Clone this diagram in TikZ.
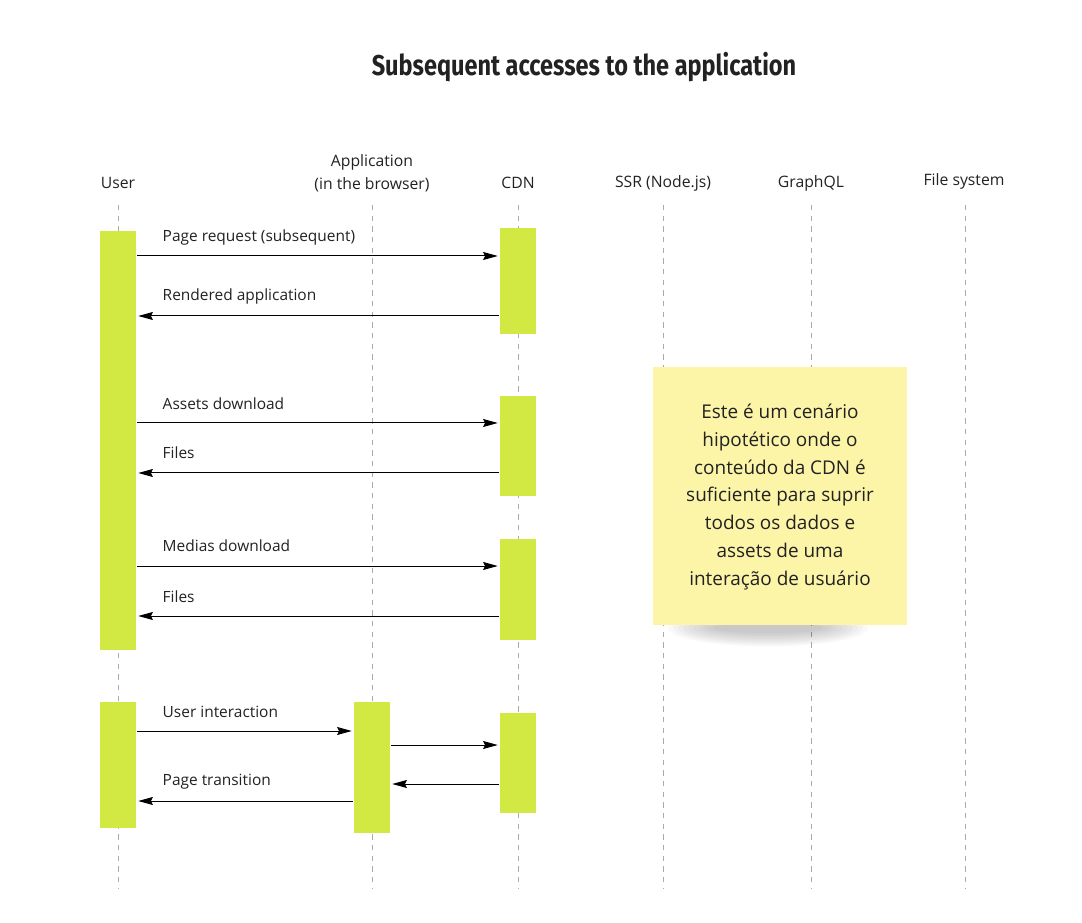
\documentclass[tikz,border=0pt]{standalone}
\usepackage{fontspec}
\setmainfont{Open Sans}
\newfontfamily\titlefont[FakeStretch=0.82]{Fira Sans}
\usetikzlibrary{positioning,calc,fit,arrows.meta}
\definecolor{lime}{HTML}{D2E843}
\definecolor{sticky}{HTML}{FCF5A8}
\definecolor{lifegray}{HTML}{AAAAAA}
\definecolor{ink}{HTML}{222222}

\begin{document}
\begin{tikzpicture}[x=0.75pt,y=-0.75pt,
    every node/.style={text=ink},
    head/.style={font=\fontsize{11.8pt}{17pt}\selectfont,align=center},
    life/.style={lifegray,line width=0.75pt,dash pattern=on 4pt off 4pt},
    bar/.style={fill=lime,draw=none,inner sep=0pt},
    msg/.style={line width=0.75pt,-{Stealth[length=11pt,width=6pt,inset=1.5pt]},shorten >=1.5pt,shorten <=0.75pt},
    lbl/.style={font=\fontsize{11.6pt}{14pt}\selectfont,anchor=west},
    note/.style={fill=sticky,draw=none,inner sep=0pt},
    notetext/.style={align=center,font=\fontsize{14.2pt}{20.8pt}\selectfont}]
      \useasboundingbox (0,0) rectangle (1082,923);
      % title
      \node[font=\titlefont\bfseries\fontsize{21.5pt}{26pt}\selectfont] (title) at (584,67) {Subsequent accesses to the application};
      % lifelines
      \foreach \x/\n/\t in {118/user/User,518/cdn/CDN,663/ssr/SSR (Node.js),811/gql/GraphQL}{
        \node[head] (\n) at (\x,183) {\t};
        \draw[life] (\x,205) -- (\x,888);}
      \node[head] (app) at (372,173) {Application\\(in the browser)};
      \draw[life] (372,205) -- (372,888);
      \node[head] (fs) at (964,181) {File system};
      \draw[life] (965,205) -- (965,888);
      % sticky note with shadow
      \foreach \i in {1,...,10}{\fill[black,opacity=0.022] (768,628) ellipse ({105-5*\i} and {20-1.5*\i});}
      \node[note,fit={(653,367)(907,625)}] (hint) {};
      \node[notetext] (hinttext) at (780,497) {Este é um cenário\\hipotético onde o\\conteúdo da CDN é\\suficiente para suprir\\todos os dados e\\assets de uma\\interação de usuário};
      % activation bars
      \node[bar,fit={(100,231)(136,650)}] (u1) {};
      \node[bar,fit={(500,228)(536,334)}] (c1) {};
      \node[bar,fit={(500,396)(536,496)}] (c2) {};
      \node[bar,fit={(500,539)(536,640)}] (c3) {};
      \node[bar,fit={(100,702)(136,828)}] (u2) {};
      \node[bar,fit={(354,702)(390,833)}] (a1) {};
      \node[bar,fit={(500,713)(536,813)}] (c4) {};
      % messages
      \draw[msg] (u1.east |- 0,256) -- (c1.west |- 0,256);
      \node[lbl] at (158,237) {Page request (subsequent)};
      \draw[msg] (c1.west |- 0,316) -- (u1.east |- 0,316);
      \node[lbl] at (158,296) {Rendered application};
      \draw[msg] (u1.east |- 0,423) -- (c2.west |- 0,423);
      \node[lbl] at (158,404) {Assets download};
      \draw[msg] (c2.west |- 0,473) -- (u1.east |- 0,473);
      \node[lbl] at (158,453) {Files};
      \draw[msg] (u1.east |- 0,566) -- (c3.west |- 0,566);
      \node[lbl] at (158,546) {Medias download};
      \draw[msg] (c3.west |- 0,616) -- (u1.east |- 0,616);
      \node[lbl] at (158,597) {Files};
      \draw[msg] (u2.east |- 0,731) -- (a1.west |- 0,731);
      \node[lbl] at (158,712) {User interaction};
      \draw[msg] (a1.east |- 0,745) -- (c4.west |- 0,745);
      \draw[msg] (c4.west |- 0,784) -- (a1.east |- 0,784);
      \draw[msg] (a1.west |- 0,801) -- (u2.east |- 0,801);
      \node[lbl] at (158,782) {Page transition};
    \end{tikzpicture}
\end{document}
